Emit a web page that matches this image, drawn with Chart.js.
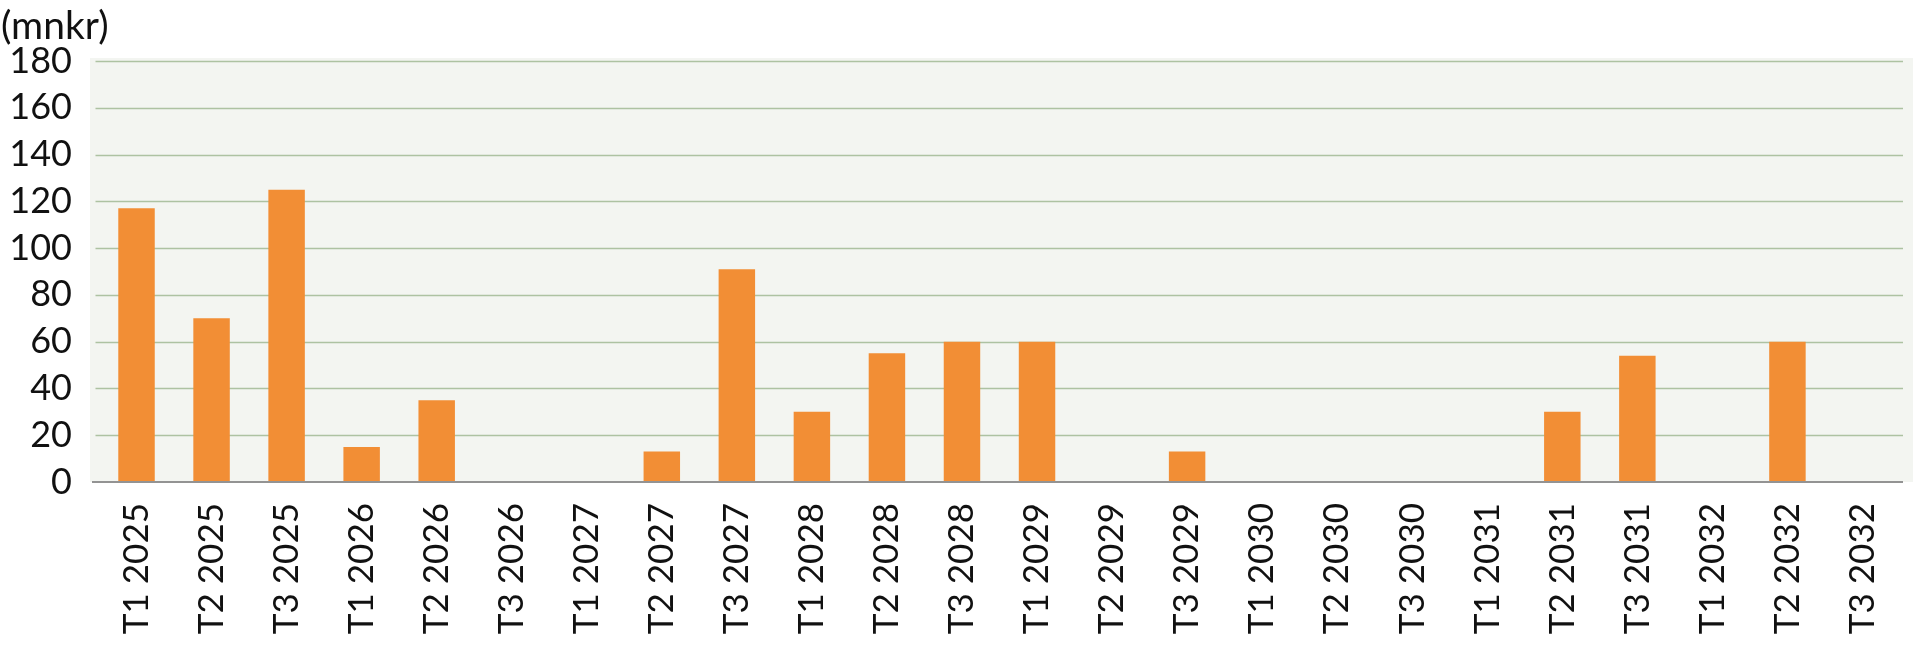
<!DOCTYPE html>
<html lang="da">
<head>
    <meta charset="UTF-8">
    <title>Udbetalinger pr. termin (mnkr)</title>
    <script src="https://cdn.jsdelivr.net/npm/chart.js"></script>
    <style>
        body { margin: 0; background: #ffffff; }
        #wrap { width: 1914px; height: 654px; }
    </style>
</head>
<body>
    <div id="wrap"><canvas id="terminChart" width="1914" height="654"></canvas></div>

    <script>
        // Terminer (x-akse) og beløb i mnkr
        const terminer = [
            'T1 2025', 'T2 2025', 'T3 2025',
            'T1 2026', 'T2 2026', 'T3 2026',
            'T1 2027', 'T2 2027', 'T3 2027',
            'T1 2028', 'T2 2028', 'T3 2028',
            'T1 2029', 'T2 2029', 'T3 2029',
            'T1 2030', 'T2 2030', 'T3 2030',
            'T1 2031', 'T2 2031', 'T3 2031',
            'T1 2032', 'T2 2032', 'T3 2032'
        ];
        const beloeb = [
            117, 70, 125,
            15, 35, 0,
            0, 13, 91,
            30, 55, 60,
            60, 0, 13,
            0, 0, 0,
            0, 30, 54,
            0, 60, 0
        ];
        const yTicks = [0, 20, 40, 60, 80, 100, 120, 140, 160, 180];
        const enhed = '(mnkr)';

        const fontFamily = 'Lato, "Open Sans", sans-serif';
        const tekstFarve = '#111111';

        // Baggrund, gitterlinjer og enhedstekst tegnes her (lidt bredere end selve kategoriområdet, som i Excel)
        const plotPynt = {
            id: 'plotPynt',
            beforeDatasetsDraw(chart) {
                const { ctx, chartArea } = chart;
                const y = chart.scales.y;
                ctx.save();
                ctx.fillStyle = '#f3f5f1';
                ctx.fillRect(chartArea.left - 9, chartArea.top - 3, chartArea.right - chartArea.left + 22, chartArea.bottom - chartArea.top + 3);

                ctx.strokeStyle = '#adc2a2';
                ctx.lineWidth = 1.4;
                yTicks.forEach(v => {
                    if (v === 0) return;
                    const py = Math.round(y.getPixelForValue(v)) + 0.5;
                    ctx.beginPath();
                    ctx.moveTo(chartArea.left - 3.5, py);
                    ctx.lineTo(chartArea.right + 3, py);
                    ctx.stroke();
                });
                ctx.restore();
            },
            afterDatasetsDraw(chart) {
                const { ctx, chartArea } = chart;
                const y0 = chart.scales.y.getPixelForValue(0);
                ctx.save();
                ctx.strokeStyle = '#939393';
                ctx.lineWidth = 2;
                ctx.beginPath();
                ctx.moveTo(chartArea.left - 7, y0);
                ctx.lineTo(chartArea.right + 3, y0);
                ctx.stroke();

                ctx.fillStyle = tekstFarve;
                ctx.font = '39px ' + fontFamily;
                ctx.textAlign = 'left';
                ctx.textBaseline = 'middle';
                ctx.fillText(enhed, 1, 26);
                ctx.restore();
            }
        };

        const ctx = document.getElementById('terminChart').getContext('2d');
        new Chart(ctx, {
            type: 'bar',
            data: {
                labels: terminer,
                datasets: [{
                    label: 'mnkr',
                    data: beloeb,
                    backgroundColor: '#f28e35',
                    borderWidth: 0,
                    barPercentage: 0.486,
                    categoryPercentage: 1
                }]
            },
            options: {
                responsive: false,
                animation: false,
                layout: { padding: { left: 0, top: 61, right: 14, bottom: 0 } },
                plugins: {
                    legend: { display: false },
                    tooltip: { enabled: false }
                },
                scales: {
                    x: {
                        offset: true,
                        grid: { display: false, drawTicks: false },
                        border: { display: false },
                        ticks: {
                            autoSkip: false,
                            minRotation: 90,
                            maxRotation: 90,
                            padding: 21,
                            color: tekstFarve,
                            font: { family: fontFamily, size: 35 }
                        },
                        afterFit(scale) {
                            scale.height = 172;
                            scale.paddingLeft = 0;
                            scale.paddingRight = 0;
                        }
                    },
                    y: {
                        min: 0,
                        max: 180,
                        afterBuildTicks(scale) { scale.ticks = yTicks.map(v => ({ value: v })); },
                        grid: { display: false, drawTicks: false },
                        border: { display: false },
                        ticks: {
                            padding: 27,
                            color: tekstFarve,
                            font: { family: fontFamily, size: 36 }
                        },
                        afterFit(scale) { scale.width = 99; }
                    }
                }
            },
            plugins: [plotPynt]
        });
    </script>
</body>
</html>
